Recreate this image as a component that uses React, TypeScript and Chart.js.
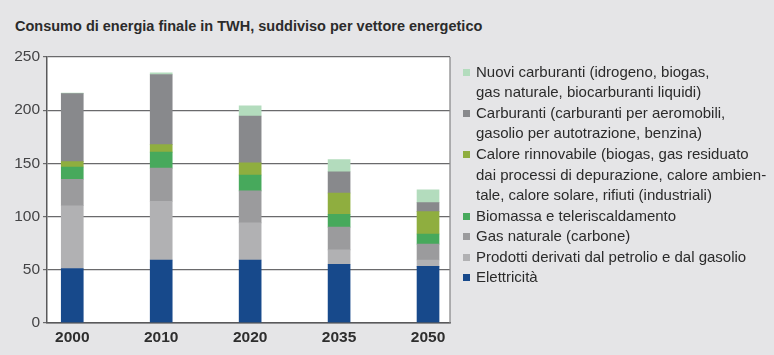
import React, { useEffect, useRef } from "react";
import { Chart, registerables } from "chart.js";

Chart.register(...registerables);

// ---- data ----
const years = ["2000", "2010", "2020", "2035", "2050"];
const elettricita = [51, 59, 59, 55, 53];
const petrolio = [59, 55, 35, 13.5, 6];
const gasNaturale = [25, 31.5, 30, 21.5, 15];
const biomassa = [11.5, 15, 15, 12, 9.5];
const caloreRinnovabile = [5, 7, 11.5, 20, 21];
const carburanti = [64, 66, 44, 20, 8.5];
const nuoviCarburanti = [0.5, 1.5, 9.5, 11.5, 12];
const yMin = 0;
const yMax = 250;
const yStep = 50;
const xMin = -0.284;
const xMax = 4.247;

const title = "Consumo di energia finale in TWH, suddiviso per vettore energetico";

const series = [
  { label: "Elettricità", data: elettricita, color: "#17498b" },
  { label: "Prodotti derivati dal petrolio e dal gasolio", data: petrolio, color: "#b1b1b3" },
  { label: "Gas naturale (carbone)", data: gasNaturale, color: "#9b9b9d" },
  { label: "Biomassa e teleriscaldamento", data: biomassa, color: "#47a95c" },
  { label: "Calore rinnovabile", data: caloreRinnovabile, color: "#8fae3f" },
  { label: "Carburanti", data: carburanti, color: "#88898c" },
  { label: "Nuovi carburanti", data: nuoviCarburanti, color: "#b3dcbd" },
];

const legendItems = [
  { color: "#b3dcbd", lines: ["Nuovi carburanti (idrogeno, biogas,", "gas naturale, biocarburanti liquidi)"] },
  { color: "#88898c", lines: ["Carburanti (carburanti per aeromobili,", "gasolio per autotrazione, benzina)"] },
  {
    color: "#8fae3f",
    lines: [
      "Calore rinnovabile (biogas, gas residuato",
      "dai processi di depurazione, calore ambien-",
      "tale, calore solare, rifiuti (industriali)",
    ],
  },
  { color: "#47a95c", lines: ["Biomassa e teleriscaldamento"] },
  { color: "#9b9b9d", lines: ["Gas naturale (carbone)"] },
  { color: "#b1b1b3", lines: ["Prodotti derivati dal petrolio e dal gasolio"] },
  { color: "#17498b", lines: ["Elettricità"] },
];

const W = 774;
const H = 355;
const FONT = "'Liberation Sans', Arial, sans-serif";

const framePlugin = {
  id: "frame",
  beforeDraw(chart: any) {
    const { ctx, chartArea: a } = chart;
    ctx.save();
    ctx.fillStyle = "#ffffff";
    ctx.fillRect(a.left, a.top, a.right - a.left, a.bottom - a.top);
    ctx.restore();
  },
  afterDatasetsDraw(chart: any) {
    const { ctx, chartArea: a } = chart;
    ctx.save();
    ctx.strokeStyle = "#8a8a8c";
    ctx.lineWidth = 1.3;
    ctx.beginPath();
    ctx.moveTo(a.right, a.top);
    ctx.lineTo(a.right, a.bottom);
    ctx.stroke();
    ctx.restore();
  },
};

export default function App() {
  const ref = useRef<HTMLCanvasElement>(null);

  useEffect(() => {
    if (!ref.current) return;
    const chart = new Chart(ref.current, {
      type: "bar",
      data: {
        datasets: series.map((s) => ({
          label: s.label,
          data: s.data.map((v, i) => ({ x: i, y: v })),
          backgroundColor: s.color,
          borderWidth: 0,
          barThickness: 22,
        })),
      },
      options: {
        responsive: false,
        animation: false,
        layout: { padding: { left: 0, top: 57, right: 324, bottom: 0 } },
        plugins: { legend: { display: false }, tooltip: { enabled: false } },
        scales: {
          x: {
            type: "linear",
            stacked: true,
            offset: false,
            min: xMin,
            max: xMax,
            afterBuildTicks(scale: any) {
              scale.ticks = years.map((_, i) => ({ value: i }));
            },
            afterFit(scale: any) {
              scale.height = 32.3;
            },
            grid: { display: false, drawTicks: false, offset: false },
            border: { display: true, color: "#59595b", width: 1.5 },
            ticks: {
              autoSkip: false,
              maxRotation: 0,
              padding: 6,
              color: "#2e2e2e",
              font: { family: FONT, size: 15.5, weight: "bold" },
              callback: (v: any) => years[v as number] ?? "",
            },
          },
          y: {
            stacked: true,
            min: yMin,
            max: yMax,
            afterFit(scale: any) {
              scale.width = 47;
            },
            grid: { color: "#6a6a6c", lineWidth: 1.2, tickLength: 4, drawTicks: true },
            border: { display: true, color: "#59595b", width: 1.5 },
            ticks: {
              stepSize: yStep,
              padding: 3,
              color: "#444446",
              font: { family: FONT, size: 15.5 },
            },
          },
        },
      },
      plugins: [framePlugin],
    } as any);
    return () => chart.destroy();
  }, []);

  return (
    <div
      style={{
        position: "fixed",
        left: 0,
        top: 0,
        width: W,
        height: H,
        background: "#e5e5e7",
        overflow: "hidden",
        fontFamily: FONT,
      }}
    >
      <div
        style={{
          position: "absolute",
          left: 15,
          top: 18,
          fontSize: 14.5,
          lineHeight: "16px",
          fontWeight: "bold",
          color: "#2b2b2b",
          whiteSpace: "nowrap",
        }}
      >
        {title}
      </div>
      <canvas ref={ref} width={W} height={H} style={{ position: "absolute", left: 0, top: 0 }} />
      <div
        style={{
          position: "absolute",
          left: 462,
          top: 61.7,
          fontSize: 15,
          lineHeight: "20.57px",
          color: "#2b2b2b",
        }}
      >
        {legendItems.map((it, k) => (
          <div key={k} style={{ position: "relative", paddingLeft: 14, whiteSpace: "nowrap" }}>
            <span
              style={{
                position: "absolute",
                left: 1,
                top: 7,
                width: 7,
                height: 7,
                background: it.color,
              }}
            />
            {it.lines.map((ln, j) => (
              <div key={j}>{ln}</div>
            ))}
          </div>
        ))}
      </div>
    </div>
  );
}
